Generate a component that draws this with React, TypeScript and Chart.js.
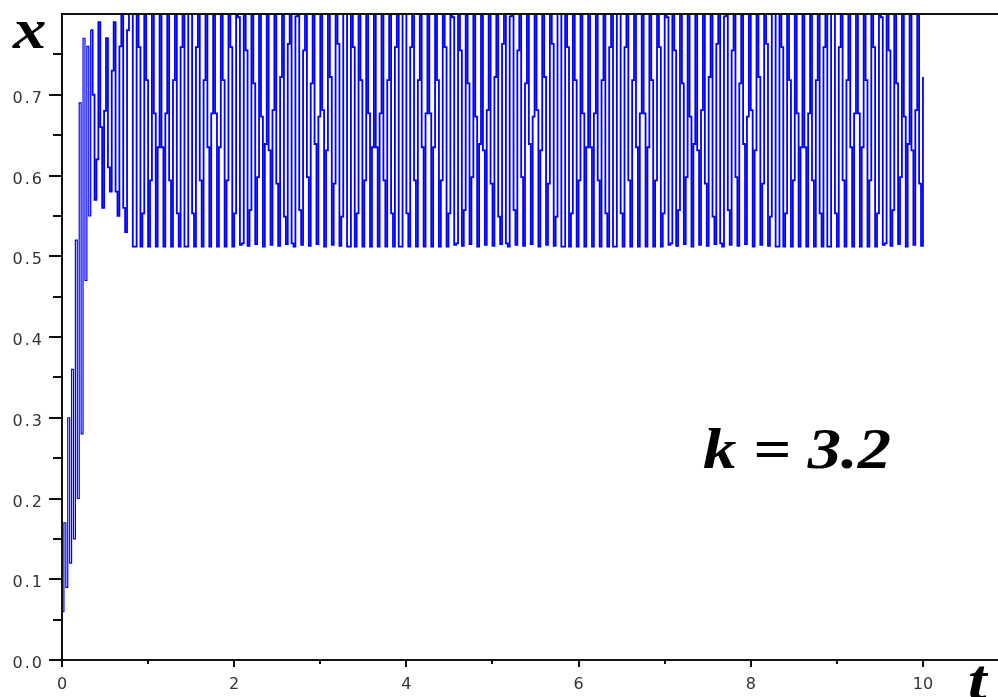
import React, { useEffect, useRef } from "react";
import { Chart, registerables } from "chart.js";

Chart.register(...registerables);

const T_STEP = 1 / 45;
const X_MAX = 10.86;
const Y_MAX = 0.8;

const START_VALUES = [0.06, 0.17, 0.09, 0.3, 0.12, 0.36, 0.15, 0.52, 0.2, 0.69, 0.28, 0.77, 0.47, 0.76, 0.55];
const SETTLE_VALUES = [
  0.78, 0.7, 0.57, 0.62, 0.79, 0.66, 0.56, 0.68, 0.77, 0.61, 0.58, 0.73, 0.79, 0.58, 0.55, 0.76, 0.8, 0.56, 0.53, 0.78,
];
const OSC_VALUES = [
  // cycle 1
  0.8, 0.8, 0.512, 0.512, 0.8, 0.759, 0.512, 0.553, 0.8, 0.718, 0.512, 0.594, 0.8, 0.677, 0.512, 0.635,
  0.8, 0.635, 0.512, 0.677, 0.8, 0.594, 0.512, 0.718, 0.8, 0.553, 0.512, 0.759, 0.8, 0.512, 0.512, 0.8,
  0.8, 0.553, 0.512, 0.759, 0.8, 0.594, 0.512, 0.718, 0.8, 0.635, 0.512, 0.677, 0.8, 0.677, 0.512, 0.635,
  0.8, 0.718, 0.512, 0.594, 0.8, 0.759, 0.512, 0.553,
  // cycle 2
  0.799, 0.796, 0.514, 0.516, 0.8, 0.755, 0.513, 0.557, 0.798, 0.714, 0.515, 0.598, 0.8, 0.673, 0.512, 0.639,
  0.799, 0.631, 0.514, 0.681, 0.8, 0.59, 0.513, 0.722, 0.798, 0.549, 0.515, 0.763, 0.8, 0.516, 0.512, 0.797,
  0.799, 0.557, 0.514, 0.755, 0.8, 0.598, 0.513, 0.714, 0.798, 0.639, 0.515, 0.673, 0.8, 0.681, 0.512, 0.631,
  0.799, 0.722, 0.514, 0.59, 0.8, 0.763, 0.513, 0.549,
  // cycle 3
  0.8, 0.8, 0.512, 0.512, 0.8, 0.759, 0.512, 0.553, 0.8, 0.718, 0.512, 0.594, 0.8, 0.677, 0.512, 0.635,
  0.8, 0.635, 0.512, 0.677, 0.8, 0.594, 0.512, 0.718, 0.8, 0.553, 0.512, 0.759, 0.8, 0.512, 0.512, 0.8,
  0.8, 0.553, 0.512, 0.759, 0.8, 0.594, 0.512, 0.718, 0.8, 0.635, 0.512, 0.677, 0.8, 0.677, 0.512, 0.635,
  0.8, 0.718, 0.512, 0.594, 0.8, 0.759, 0.512, 0.553,
  // cycle 4
  0.799, 0.796, 0.514, 0.516, 0.8, 0.755, 0.513, 0.557, 0.798, 0.714, 0.515, 0.598, 0.8, 0.673, 0.512, 0.639,
  0.799, 0.631, 0.514, 0.681, 0.8, 0.59, 0.513, 0.722, 0.798, 0.549, 0.515, 0.763, 0.8, 0.516, 0.512, 0.797,
  0.799, 0.557, 0.514, 0.755, 0.8, 0.598, 0.513, 0.714, 0.798, 0.639, 0.515, 0.673, 0.8, 0.681, 0.512, 0.631,
  0.799, 0.722, 0.514, 0.59, 0.8, 0.763, 0.513, 0.549,
  // cycle 5
  0.8, 0.8, 0.512, 0.512, 0.8, 0.759, 0.512, 0.553, 0.8, 0.718, 0.512, 0.594, 0.8, 0.677, 0.512, 0.635,
  0.8, 0.635, 0.512, 0.677, 0.8, 0.594, 0.512, 0.718, 0.8, 0.553, 0.512, 0.759, 0.8, 0.512, 0.512, 0.8,
  0.8, 0.553, 0.512, 0.759, 0.8, 0.594, 0.512, 0.718, 0.8, 0.635, 0.512, 0.677, 0.8, 0.677, 0.512, 0.635,
  0.8, 0.718, 0.512, 0.594, 0.8, 0.759, 0.512, 0.553,
  // cycle 6
  0.799, 0.796, 0.514, 0.516, 0.8, 0.755, 0.513, 0.557, 0.798, 0.714, 0.515, 0.598, 0.8, 0.673, 0.512, 0.639,
  0.799, 0.631, 0.514, 0.681, 0.8, 0.59, 0.513, 0.722, 0.798, 0.549, 0.515, 0.763, 0.8, 0.516, 0.512, 0.797,
  0.799, 0.557, 0.514, 0.755, 0.8, 0.598, 0.513, 0.714, 0.798, 0.639, 0.515, 0.673, 0.8, 0.681, 0.512, 0.631,
  0.799, 0.722, 0.514, 0.59, 0.8, 0.763, 0.513, 0.549,
  // cycle 7
  0.8, 0.8, 0.512, 0.512, 0.8, 0.759, 0.512, 0.553, 0.8, 0.718, 0.512, 0.594, 0.8, 0.677, 0.512, 0.635,
  0.8, 0.635, 0.512, 0.677, 0.8, 0.594, 0.512, 0.718, 0.8, 0.553, 0.512, 0.759, 0.8, 0.512, 0.512, 0.8,
  0.8, 0.553, 0.512, 0.759, 0.8, 0.594, 0.512, 0.718, 0.8, 0.635, 0.512, 0.677, 0.8, 0.677, 0.512, 0.635,
  0.8, 0.718, 0.512, 0.594, 0.8, 0.759, 0.512, 0.553,
  // partial cycle 8
  0.799, 0.796, 0.514, 0.516, 0.8, 0.755, 0.513, 0.557, 0.798, 0.714, 0.515, 0.598, 0.8, 0.673, 0.512, 0.639,
  0.799, 0.631, 0.514, 0.681, 0.8, 0.59, 0.513, 0.722,
];

const Y_MAJOR_TICKS = [0, 0.1, 0.2, 0.3, 0.4, 0.5, 0.6, 0.7];
const Y_MINOR_TICKS = [0.05, 0.15, 0.25, 0.35, 0.45, 0.55, 0.65, 0.75];
const X_MAJOR_TICKS = [0, 2, 4, 6, 8, 10];
const X_MINOR_TICKS = [1, 3, 5, 7, 9];

const Y_TITLE = "x";
const X_TITLE = "t";
const ANNOTATION = "k = 3.2";

function stretchedText(ctx: CanvasRenderingContext2D, text: string, x: number, y: number, sx: number) {
  ctx.save();
  ctx.translate(x, y);
  ctx.scale(sx, 1);
  ctx.fillText(text, 0, 0);
  ctx.restore();
}

const decorPlugin = {
  id: "decor",
  afterDatasetsDraw(chart: any) {
    const ctx = chart.ctx as CanvasRenderingContext2D;
    const { left, right, top, bottom } = chart.chartArea;
    const xs = chart.scales.x;
    const ys = chart.scales.y;
    ctx.save();
    ctx.fillStyle = "#111";
    ctx.fillRect(left - 1, top - 1, right - left + 2, 2);
    ctx.fillRect(left - 1, top, 2, bottom - top);
    ctx.fillRect(left, bottom - 1, right - left + 1, 2);
    Y_MAJOR_TICKS.forEach((v) => {
      const y = Math.round(ys.getPixelForValue(v));
      ctx.fillRect(left - 13, y - 1, 13, 2);
    });
    Y_MINOR_TICKS.forEach((v) => {
      const y = Math.round(ys.getPixelForValue(v));
      ctx.fillRect(left - 9, y - 1, 9, 2);
    });
    X_MAJOR_TICKS.forEach((v) => {
      const x = Math.round(xs.getPixelForValue(v));
      ctx.fillRect(x - 1, bottom, 2, 7);
    });
    X_MINOR_TICKS.forEach((v) => {
      const x = Math.round(xs.getPixelForValue(v));
      ctx.fillRect(x - 1, bottom, 2, 4);
    });
    ctx.fillStyle = "#333";
    ctx.font = "16px 'DejaVu Sans'";
    ctx.textAlign = "right";
    ctx.textBaseline = "middle";
    (ctx as any).letterSpacing = "2px";
    Y_MAJOR_TICKS.forEach((v) => {
      const y = ys.getPixelForValue(v);
      ctx.fillText(v.toFixed(1), left - 18, y + 4);
    });
    (ctx as any).letterSpacing = "0px";
    ctx.textAlign = "center";
    X_MAJOR_TICKS.forEach((v) => {
      const x = xs.getPixelForValue(v);
      ctx.fillText(String(v), x, bottom + 25);
    });
    ctx.fillStyle = "#000";
    ctx.textAlign = "left";
    ctx.textBaseline = "alphabetic";
    ctx.font = "italic bold 58px 'Liberation Serif'";
    stretchedText(ctx, Y_TITLE, 13, 48, 1.15);
    stretchedText(ctx, X_TITLE, 968, 699, 1.15);
    stretchedText(ctx, ANNOTATION, 703, 468, 1.15);
    ctx.restore();
  },
};

export default function App() {
  const canvasRef = useRef<HTMLCanvasElement | null>(null);

  useEffect(() => {
    const canvas = canvasRef.current;
    if (!canvas) return;
    const values = [...START_VALUES, ...SETTLE_VALUES, ...OSC_VALUES];
    const points = values.map((v, i) => ({ x: i * T_STEP, y: v }));
    const chart = new Chart(canvas, {
      type: "line",
      data: {
        datasets: [
          {
            data: points,
            borderColor: "#0000ff",
            borderWidth: 1.8,
            pointRadius: 0,
            stepped: true,
            fill: false,
            segment: {
              borderWidth: (c: any) => (c.p0DataIndex < START_VALUES.length ? 1.2 : 1.8),
            },
          },
        ],
      },
      options: {
        animation: false,
        responsive: false,
        devicePixelRatio: 1,
        layout: { padding: { left: 0, top: 14, right: 1, bottom: 0 } },
        plugins: {
          legend: { display: false },
          tooltip: { enabled: false },
          title: { display: false },
        },
        scales: {
          x: {
            type: "linear",
            min: 0,
            max: X_MAX,
            grid: { display: false },
            border: { display: false },
            ticks: { display: false },
            afterFit: (s: any) => {
              s.height = 37;
            },
          },
          y: {
            type: "linear",
            min: 0,
            max: Y_MAX,
            grid: { display: false },
            border: { display: false },
            ticks: { display: false },
            afterFit: (s: any) => {
              s.width = 62;
            },
          },
        },
      },
      plugins: [decorPlugin],
    });
    return () => chart.destroy();
  }, []);

  return (
    <div style={{ position: "fixed", left: 0, top: 0, width: 998, height: 697, background: "#fff" }}>
      <canvas ref={canvasRef} width={998} height={697} style={{ width: 998, height: 697, display: "block" }} />
    </div>
  );
}
